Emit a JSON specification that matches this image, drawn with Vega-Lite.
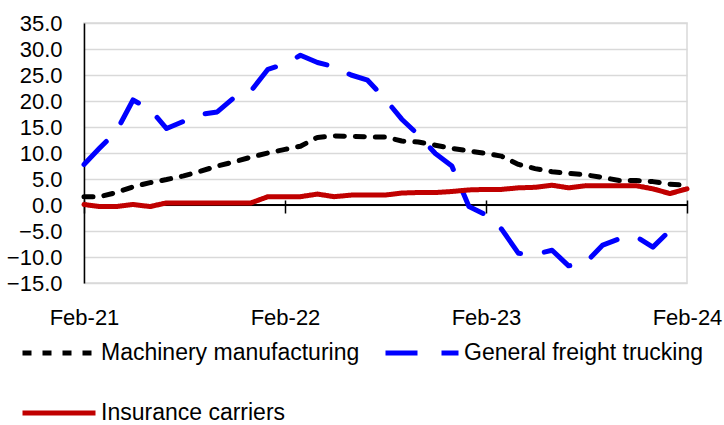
{
  "$schema": "https://vega.github.io/schema/vega-lite/v6.json",
  "width": 603,
  "height": 260,
  "autosize": "none",
  "padding": {"left": 84, "top": 23, "right": 37, "bottom": 142},
  "background": "white",
  "config": {
    "font": "Liberation Sans",
    "view": {"stroke": "#d9d9d9", "strokeWidth": 1.5},
    "axisX": {"domain": false, "ticks": true, "tickSize": 13, "tickColor": "black", "tickWidth": 1.5, "offset": -83, "labelPadding": 94, "labelFontSize": 22, "labelColor": "black", "grid": false, "labelFlush": false, "labelOverlap": false},
    "axisY": {"domain": true, "domainColor": "black", "domainWidth": 1.5, "ticks": false, "grid": true, "gridColor": "#d9d9d9", "gridWidth": 1.5, "labelFontSize": 22, "labelColor": "black", "labelPadding": 22, "labelOverlap": false, "labelFlush": false}
  },
  "data": {"values": [
    {"d":"2021-02-01","s":"Machinery manufacturing","v":1.6},
    {"d":"2021-03-01","s":"Machinery manufacturing","v":1.6},
    {"d":"2021-04-01","s":"Machinery manufacturing","v":2.4},
    {"d":"2021-05-01","s":"Machinery manufacturing","v":3.5},
    {"d":"2021-06-01","s":"Machinery manufacturing","v":4.3},
    {"d":"2021-07-01","s":"Machinery manufacturing","v":4.9},
    {"d":"2021-08-01","s":"Machinery manufacturing","v":5.6},
    {"d":"2021-09-01","s":"Machinery manufacturing","v":6.5},
    {"d":"2021-10-01","s":"Machinery manufacturing","v":7.5},
    {"d":"2021-11-01","s":"Machinery manufacturing","v":8.3},
    {"d":"2021-12-01","s":"Machinery manufacturing","v":9.2},
    {"d":"2022-01-01","s":"Machinery manufacturing","v":10.0},
    {"d":"2022-02-01","s":"Machinery manufacturing","v":10.7},
    {"d":"2022-03-01","s":"Machinery manufacturing","v":11.3},
    {"d":"2022-04-01","s":"Machinery manufacturing","v":13.0},
    {"d":"2022-05-01","s":"Machinery manufacturing","v":13.3},
    {"d":"2022-06-01","s":"Machinery manufacturing","v":13.2},
    {"d":"2022-07-01","s":"Machinery manufacturing","v":13.1},
    {"d":"2022-08-01","s":"Machinery manufacturing","v":13.1},
    {"d":"2022-09-01","s":"Machinery manufacturing","v":12.3},
    {"d":"2022-10-01","s":"Machinery manufacturing","v":12.1},
    {"d":"2022-11-01","s":"Machinery manufacturing","v":11.5},
    {"d":"2022-12-01","s":"Machinery manufacturing","v":10.9},
    {"d":"2023-01-01","s":"Machinery manufacturing","v":10.4},
    {"d":"2023-02-01","s":"Machinery manufacturing","v":9.9},
    {"d":"2023-03-01","s":"Machinery manufacturing","v":9.4},
    {"d":"2023-04-01","s":"Machinery manufacturing","v":7.8},
    {"d":"2023-05-01","s":"Machinery manufacturing","v":7.0},
    {"d":"2023-06-01","s":"Machinery manufacturing","v":6.4},
    {"d":"2023-07-01","s":"Machinery manufacturing","v":6.1},
    {"d":"2023-08-01","s":"Machinery manufacturing","v":5.8},
    {"d":"2023-09-01","s":"Machinery manufacturing","v":5.3},
    {"d":"2023-10-01","s":"Machinery manufacturing","v":4.7},
    {"d":"2023-11-01","s":"Machinery manufacturing","v":4.7},
    {"d":"2023-12-01","s":"Machinery manufacturing","v":4.5},
    {"d":"2024-01-01","s":"Machinery manufacturing","v":4.0},
    {"d":"2024-02-01","s":"Machinery manufacturing","v":3.8},
    {"d":"2021-02-01","s":"General freight trucking","v":7.8},
    {"d":"2021-03-01","s":"General freight trucking","v":10.9},
    {"d":"2021-04-01","s":"General freight trucking","v":14.2},
    {"d":"2021-05-01","s":"General freight trucking","v":20.2},
    {"d":"2021-06-01","s":"General freight trucking","v":18.4},
    {"d":"2021-07-01","s":"General freight trucking","v":14.7},
    {"d":"2021-08-01","s":"General freight trucking","v":16.1},
    {"d":"2021-09-01","s":"General freight trucking","v":17.4},
    {"d":"2021-10-01","s":"General freight trucking","v":17.9},
    {"d":"2021-11-01","s":"General freight trucking","v":20.7},
    {"d":"2021-12-01","s":"General freight trucking","v":21.9},
    {"d":"2022-01-01","s":"General freight trucking","v":26.1},
    {"d":"2022-02-01","s":"General freight trucking","v":27.1},
    {"d":"2022-03-01","s":"General freight trucking","v":28.8},
    {"d":"2022-04-01","s":"General freight trucking","v":27.4},
    {"d":"2022-05-01","s":"General freight trucking","v":26.6},
    {"d":"2022-06-01","s":"General freight trucking","v":25.0},
    {"d":"2022-07-01","s":"General freight trucking","v":24.0},
    {"d":"2022-08-01","s":"General freight trucking","v":20.5},
    {"d":"2022-09-01","s":"General freight trucking","v":16.5},
    {"d":"2022-10-01","s":"General freight trucking","v":13.5},
    {"d":"2022-11-01","s":"General freight trucking","v":9.9},
    {"d":"2022-12-01","s":"General freight trucking","v":7.5},
    {"d":"2023-01-01","s":"General freight trucking","v":-0.3},
    {"d":"2023-02-01","s":"General freight trucking","v":-1.9},
    {"d":"2023-03-01","s":"General freight trucking","v":-4.6},
    {"d":"2023-04-01","s":"General freight trucking","v":-9.3},
    {"d":"2023-05-01","s":"General freight trucking","v":-9.5},
    {"d":"2023-06-01","s":"General freight trucking","v":-8.7},
    {"d":"2023-07-01","s":"General freight trucking","v":-11.7},
    {"d":"2023-08-01","s":"General freight trucking","v":-11.1},
    {"d":"2023-09-01","s":"General freight trucking","v":-7.7},
    {"d":"2023-10-01","s":"General freight trucking","v":-6.5},
    {"d":"2023-11-01","s":"General freight trucking","v":-6.1},
    {"d":"2023-12-01","s":"General freight trucking","v":-8.1},
    {"d":"2024-01-01","s":"General freight trucking","v":-4.9},
    {"d":"2024-02-01","s":"General freight trucking","v":-4.8},
    {"d":"2021-02-01","s":"Insurance carriers","v":0.1},
    {"d":"2021-03-01","s":"Insurance carriers","v":-0.3},
    {"d":"2021-04-01","s":"Insurance carriers","v":-0.3},
    {"d":"2021-05-01","s":"Insurance carriers","v":0.1},
    {"d":"2021-06-01","s":"Insurance carriers","v":-0.3},
    {"d":"2021-07-01","s":"Insurance carriers","v":0.4},
    {"d":"2021-08-01","s":"Insurance carriers","v":0.4},
    {"d":"2021-09-01","s":"Insurance carriers","v":0.4},
    {"d":"2021-10-01","s":"Insurance carriers","v":0.4},
    {"d":"2021-11-01","s":"Insurance carriers","v":0.4},
    {"d":"2021-12-01","s":"Insurance carriers","v":0.4},
    {"d":"2022-01-01","s":"Insurance carriers","v":1.6},
    {"d":"2022-02-01","s":"Insurance carriers","v":1.6},
    {"d":"2022-03-01","s":"Insurance carriers","v":1.6},
    {"d":"2022-04-01","s":"Insurance carriers","v":2.1},
    {"d":"2022-05-01","s":"Insurance carriers","v":1.6},
    {"d":"2022-06-01","s":"Insurance carriers","v":1.9},
    {"d":"2022-07-01","s":"Insurance carriers","v":1.9},
    {"d":"2022-08-01","s":"Insurance carriers","v":1.9},
    {"d":"2022-09-01","s":"Insurance carriers","v":2.3},
    {"d":"2022-10-01","s":"Insurance carriers","v":2.4},
    {"d":"2022-11-01","s":"Insurance carriers","v":2.4},
    {"d":"2022-12-01","s":"Insurance carriers","v":2.6},
    {"d":"2023-01-01","s":"Insurance carriers","v":2.9},
    {"d":"2023-02-01","s":"Insurance carriers","v":3.0},
    {"d":"2023-03-01","s":"Insurance carriers","v":3.0},
    {"d":"2023-04-01","s":"Insurance carriers","v":3.3},
    {"d":"2023-05-01","s":"Insurance carriers","v":3.4},
    {"d":"2023-06-01","s":"Insurance carriers","v":3.8},
    {"d":"2023-07-01","s":"Insurance carriers","v":3.3},
    {"d":"2023-08-01","s":"Insurance carriers","v":3.7},
    {"d":"2023-09-01","s":"Insurance carriers","v":3.7},
    {"d":"2023-10-01","s":"Insurance carriers","v":3.7},
    {"d":"2023-11-01","s":"Insurance carriers","v":3.7},
    {"d":"2023-12-01","s":"Insurance carriers","v":3.1},
    {"d":"2024-01-01","s":"Insurance carriers","v":2.2},
    {"d":"2024-02-01","s":"Insurance carriers","v":3.1}
  ]},
  "layer": [
    {
      "mark": {"type": "rule", "color": "black", "strokeWidth": 1.5},
      "encoding": {
        "y": {"datum": 0, "type": "quantitative", "title": null,
          "scale": {"domain": [-15, 35], "nice": false, "zero": false},
          "axis": {"format": ".1f", "values": [-15, -10, -5, 0, 5, 10, 15, 20, 25, 30, 35], "labelOverlap": false, "tickCount": 11}}
      }
    },
    {
      "mark": {"type": "line", "strokeWidth": 5, "strokeCap": "round", "strokeJoin": "round"},
      "encoding": {
        "x": {
          "field": "d", "type": "temporal", "title": null,
          "scale": {"type": "utc", "nice": false, "domain": [{"year": 2021, "month": 2, "date": 1, "utc": true}, {"year": 2024, "month": 2, "date": 1, "utc": true}]},
          "axis": {"format": "%b-%y", "values": [{"year": 2021, "month": 2, "date": 1, "utc": true}, {"year": 2022, "month": 2, "date": 1, "utc": true}, {"year": 2023, "month": 2, "date": 1, "utc": true}, {"year": 2024, "month": 2, "date": 1, "utc": true}]}
        },
        "y": {
          "field": "v", "type": "quantitative", "title": null,
          "scale": {"domain": [-15, 35], "nice": false, "zero": false},
          "axis": {"format": ".1f", "values": [-15, -10, -5, 0, 5, 10, 15, 20, 25, 30, 35], "labelOverlap": false, "tickCount": 11}
        },
        "color": {
          "field": "s", "type": "nominal",
          "scale": {"domain": ["Machinery manufacturing", "General freight trucking", "Insurance carriers"], "range": ["#000000", "#0000ff", "#c00000"]},
          "legend": {"orient": "none", "direction": "horizontal", "legendX": -64, "legendY": 291, "columns": 2, "symbolType": "stroke", "symbolSize": 5329, "symbolStrokeWidth": 5, "labelFontSize": 23, "labelColor": "black", "labelOffset": 3, "columnPadding": 15, "rowPadding": 9, "title": null, "padding": 0, "labelLimit": 400}
        },
        "strokeDash": {
          "field": "s", "type": "nominal",
          "scale": {"domain": ["Machinery manufacturing", "General freight trucking", "Insurance carriers"], "range": [[9, 11], [32, 24], [1, 0]]},
          "legend": {"orient": "none", "direction": "horizontal", "legendX": -64, "legendY": 291, "columns": 2, "symbolType": "stroke", "symbolSize": 5329, "symbolStrokeWidth": 5, "labelFontSize": 23, "labelColor": "black", "labelOffset": 3, "columnPadding": 15, "rowPadding": 9, "title": null, "padding": 0, "labelLimit": 400}
        }
      }
    }
  ]
}
